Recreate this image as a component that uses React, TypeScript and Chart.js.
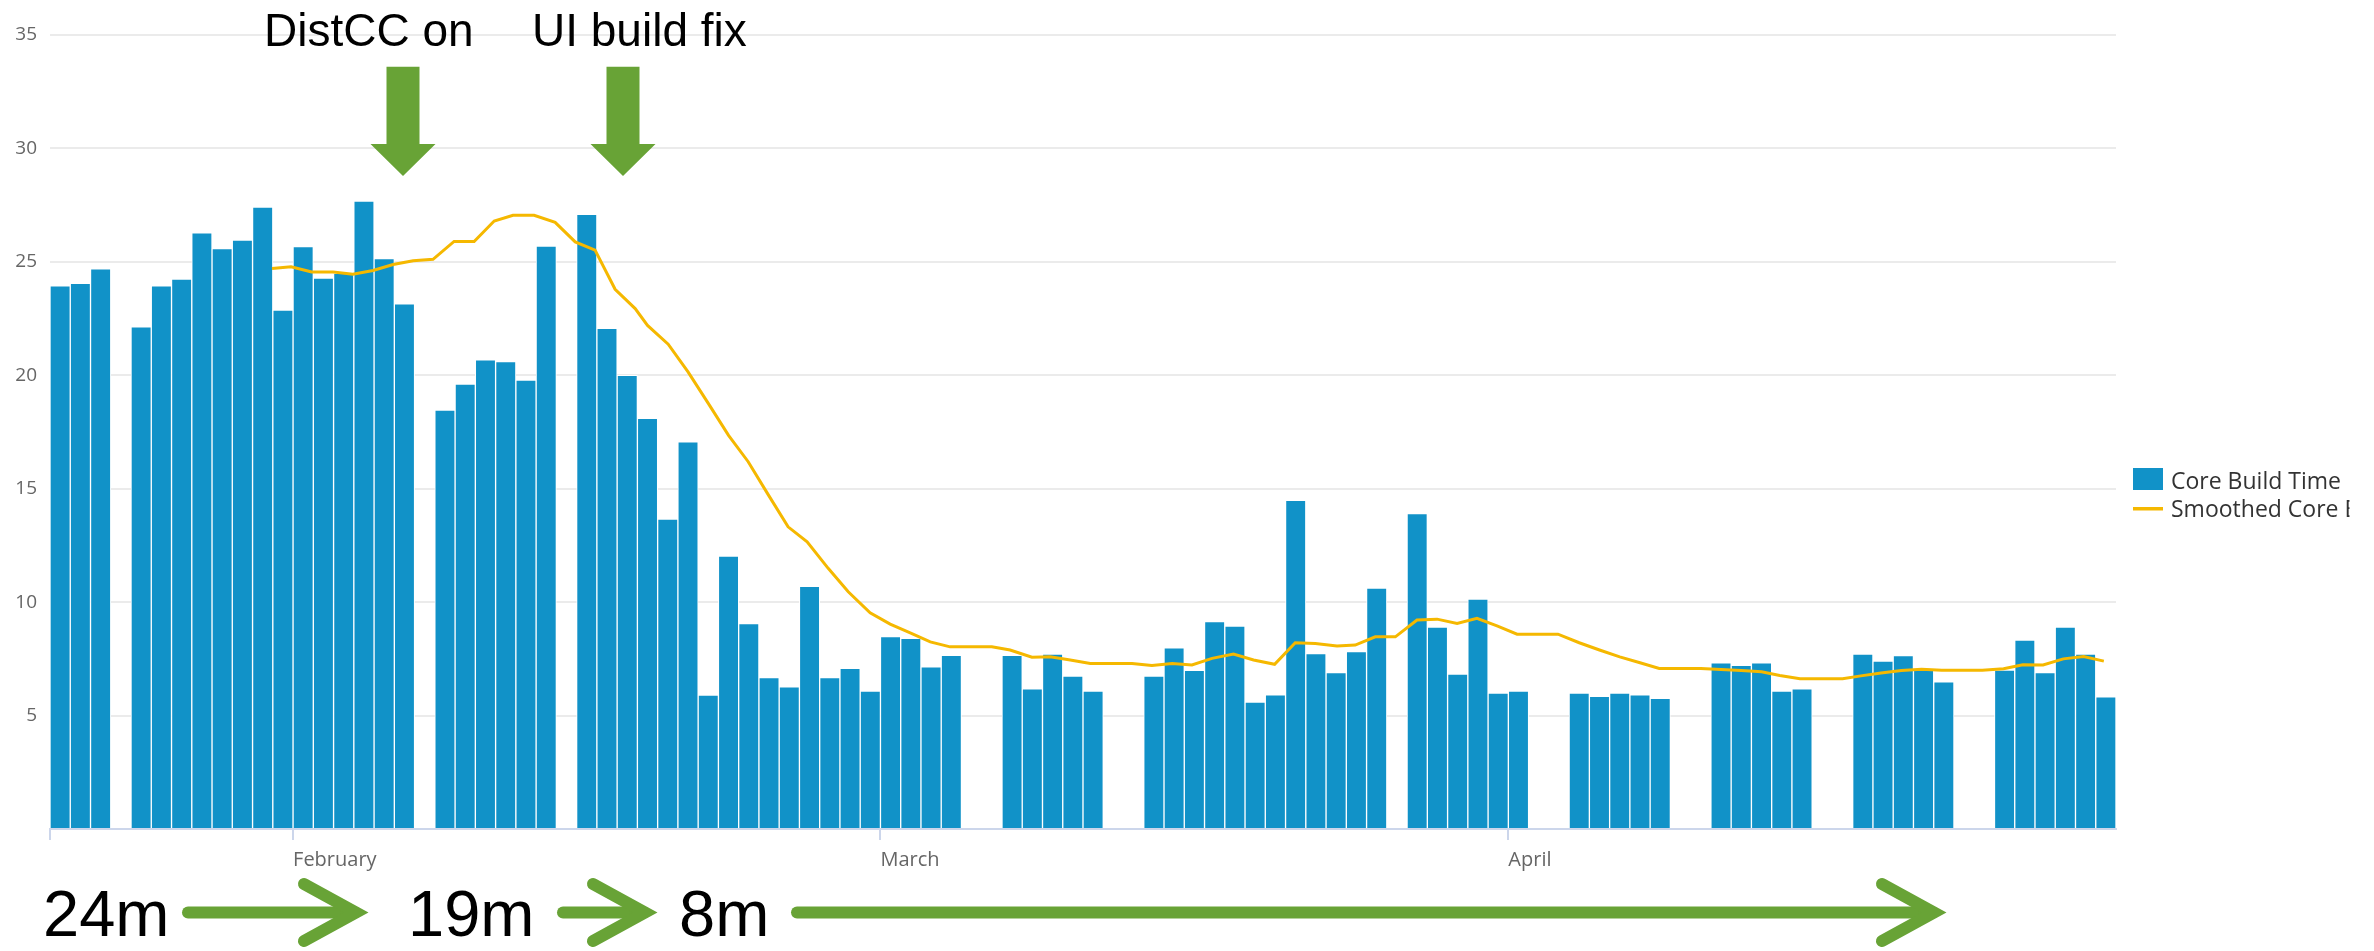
import { useEffect, useRef } from 'react';
import { Chart, registerables } from 'chart.js';

Chart.register(...registerables);

// Day slots starting 2016-01-20 (slot index 0); null = no build that day
const coreBuildTime: (number | null)[] = [
  23.94, 24.05, 24.69, null, 22.14, 23.94, 24.24, 26.28, 25.59, 25.96,
  27.42, 22.87, 25.67, 24.28, 24.49, 27.68, 25.14, 23.15, null, 18.47,
  19.61, 20.68, 20.6, 19.79, 25.69, null, 27.1, 22.07, 20.0, 18.1,
  13.66, 17.07, 5.9, 12.03, 9.05, 6.67, 6.27, 10.7, 6.67, 7.08,
  6.08, 8.48, 8.4, 7.15, 7.65, null, null, 7.65, 6.18, 7.71,
  6.74, 6.08, null, null, 6.74, 7.99, 6.99, 9.14, 8.95, 5.6,
  5.91, 14.49, 7.73, 6.9, 7.82, 10.62, null, 13.9, 8.9, 6.83,
  10.14, 5.99, 6.08, null, null, 5.99, 5.85, 5.99, 5.91, 5.76,
  null, null, 7.32, 7.21, 7.32, 6.08, 6.18, null, null, 7.71,
  7.4, 7.64, 7.0, 6.49, null, null, 7.0, 8.33, 6.9, 8.9,
  7.71, 5.83,
];

// Smoothed series: position in day units and value
const smoothedDays = [
  10.96, 11.9, 12.92, 13.98, 14.95, 15.95, 16.94, 17.93, 18.91, 19.95,
  20.94, 21.93, 22.86, 23.9, 24.94, 25.93, 26.91, 27.9, 28.89, 29.5,
  30.52, 31.5, 32.5, 33.5, 34.47, 35.45, 36.44, 37.38, 38.42, 39.41,
  40.49, 41.48, 42.47, 43.46, 44.44, 45.43, 46.5, 47.4, 48.48, 49.38,
  50.37, 51.36, 52.35, 53.42, 54.4, 55.4, 56.38, 57.37, 58.43, 59.42,
  60.46, 61.48, 62.47, 63.54, 64.44, 65.43, 66.42, 67.49, 68.48, 69.47,
  70.45, 71.44, 72.43, 73.45, 74.45, 75.5, 76.5, 77.5, 78.5, 79.45,
  80.5, 81.5, 82.5, 83.5, 84.5, 85.4, 86.4, 87.5, 88.5, 89.4,
  90.4, 91.4, 92.4, 93.4, 94.4, 95.4, 96.45, 97.4, 98.4, 99.4,
  100.4, 101.4,
];
const smoothedValues = [
  24.71, 24.78, 24.55, 24.55, 24.45, 24.62, 24.88, 25.05, 25.11, 25.9,
  25.9, 26.8, 27.05, 27.05, 26.74, 25.88, 25.52, 23.79, 22.94, 22.2,
  21.37, 20.15, 18.76, 17.35, 16.19, 14.75, 13.32, 12.66, 11.49, 10.46,
  9.53, 9.03, 8.65, 8.25, 8.03, 8.03, 8.03, 7.89, 7.57, 7.59,
  7.45, 7.3, 7.3, 7.3, 7.21, 7.3, 7.23, 7.52, 7.71, 7.45,
  7.26, 8.21, 8.18, 8.07, 8.11, 8.47, 8.47, 9.21, 9.25, 9.06,
  9.29, 8.95, 8.59, 8.59, 8.59, 8.21, 7.89, 7.59, 7.33, 7.08,
  7.08, 7.08, 7.03, 6.99, 6.93, 6.77, 6.62, 6.62, 6.62, 6.75,
  6.88, 6.99, 7.04, 7.0, 7.0, 7.0, 7.06, 7.24, 7.23, 7.5,
  7.6, 7.4,
];

const tickDays = [0, 12, 41, 72];
const tickLabels = ['', 'February', 'March', 'April'];

const seriesNames = ['Core Build Time', 'Smoothed Core Build Time'];
const eventLabels = ['DistCC on', 'UI build fix'];
const stageLabels = ['24m', '19m', '8m'];

const BAR_COLOR = '#1192c8';
const LINE_COLOR = '#f5b800';
const GREEN = '#68a336';
const AXIS_FONT = "'Open Sans', 'DejaVu Sans', sans-serif";
const NOTE_FONT = "'Liberation Sans', Arial, sans-serif";

function drawDownArrow(ctx: CanvasRenderingContext2D, cx: number) {
  ctx.beginPath();
  ctx.moveTo(cx - 16.5, 66.7);
  ctx.lineTo(cx + 16.5, 66.7);
  ctx.lineTo(cx + 16.5, 144);
  ctx.lineTo(cx + 32.5, 144);
  ctx.lineTo(cx, 176);
  ctx.lineTo(cx - 32.5, 144);
  ctx.lineTo(cx - 16.5, 144);
  ctx.closePath();
  ctx.fill();
}

function drawRightArrow(ctx: CanvasRenderingContext2D, x0: number, tip: number, y: number) {
  ctx.lineWidth = 12;
  ctx.lineCap = 'round';
  ctx.lineJoin = 'miter';
  ctx.miterLimit = 10;
  ctx.beginPath();
  ctx.moveTo(x0, y);
  ctx.lineTo(tip - 14, y);
  ctx.stroke();
  ctx.beginPath();
  ctx.moveTo(tip - 65, y - 28.5);
  ctx.lineTo(tip - 13, y);
  ctx.lineTo(tip - 65, y + 28.5);
  ctx.stroke();
}

const annotationPlugin = {
  id: 'annotations',
  afterDraw(chart: any) {
    const ctx: CanvasRenderingContext2D = chart.ctx;
    ctx.save();
    // top event notes
    ctx.fillStyle = '#000';
    ctx.textBaseline = 'alphabetic';
    ctx.textAlign = 'left';
    ctx.font = `46px ${NOTE_FONT}`;
    ctx.fillText(eventLabels[0], 264, 46);
    ctx.fillText(eventLabels[1], 532, 46);
    ctx.fillStyle = GREEN;
    drawDownArrow(ctx, 403);
    drawDownArrow(ctx, 623);

    // bottom stage notes
    ctx.fillStyle = '#000';
    ctx.font = `65px ${NOTE_FONT}`;
    ctx.fillText(stageLabels[0], 43, 936);
    ctx.fillText(stageLabels[1], 408, 936);
    ctx.fillText(stageLabels[2], 679, 936);
    ctx.strokeStyle = GREEN;
    drawRightArrow(ctx, 188, 369, 912.5);
    drawRightArrow(ctx, 563, 658, 912.5);
    drawRightArrow(ctx, 797, 1947, 912.5);

    // legend
    const lx = 2133;
    ctx.fillStyle = BAR_COLOR;
    ctx.fillRect(lx, 468, 30, 22);
    ctx.fillStyle = LINE_COLOR;
    ctx.fillRect(lx, 507, 30, 3.5);
    ctx.fillStyle = '#333';
    ctx.font = `23px ${AXIS_FONT}`;
    ctx.fillText(seriesNames[0], 2171, 489);
    const clipX = 2171 + ctx.measureText('Smoothed Core ').width + 5;
    ctx.beginPath();
    ctx.rect(2100, 490, clipX - 2100, 40);
    ctx.clip();
    ctx.fillText(seriesNames[1], 2171, 516.5);
    ctx.restore();
  },
};

export default function App() {
  const ref = useRef<HTMLCanvasElement>(null);
  useEffect(() => {
    document.body.style.margin = '0';
    const canvas = ref.current!;
    const chart = new Chart(canvas, {
      type: 'bar',
      data: {
        datasets: [
          {
            type: 'line',
            label: seriesNames[1],
            data: smoothedDays.map((d, i) => ({ x: d, y: smoothedValues[i] })),
            borderColor: LINE_COLOR,
            borderWidth: 3,
            pointRadius: 0,
            tension: 0,
            fill: false,
            order: 1,
          } as any,
          {
            type: 'bar',
            label: seriesNames[0],
            data: coreBuildTime.map((v, i) => ({ x: i + 0.5, y: v })),
            backgroundColor: BAR_COLOR,
            borderColor: '#ffffff',
            borderWidth: 1,
            borderSkipped: 'bottom',
            barPercentage: 1,
            categoryPercentage: 1,
            order: 2,
          } as any,
        ],
      },
      options: {
        responsive: false,
        animation: false,
        devicePixelRatio: 1,
        events: [],
        layout: { padding: { top: 35, right: 258, bottom: 0, left: 0 } },
        plugins: { legend: { display: false }, tooltip: { enabled: false } },
        scales: {
          x: {
            type: 'linear',
            min: 0,
            max: 102,
            offset: false,
            afterBuildTicks: (axis: any) => {
              axis.ticks = tickDays.map((v) => ({ value: v }));
            },
            afterFit: (axis: any) => {
              axis.height = 122;
            },
            ticks: {
              autoSkip: false,
              maxRotation: 0,
              align: 'start',
              padding: 8,
              color: '#666',
              font: { family: AXIS_FONT, size: 20 },
              callback: (_v: any, i: number) => tickLabels[i] ?? '',
            },
            grid: {
              drawOnChartArea: false,
              drawTicks: true,
              tickLength: 11,
              color: '#ccd6eb',
              lineWidth: 2,
              offset: false,
            },
            border: { display: true, color: '#ccd6eb', width: 2 },
          } as any,
          y: {
            min: 0,
            max: 35,
            afterFit: (axis: any) => {
              axis.width = 50;
            },
            ticks: {
              stepSize: 5,
              padding: 13,
              color: '#666',
              font: { family: AXIS_FONT, size: 19 },
              callback: (v: any) => (v === 0 ? '' : String(v)),
            },
            grid: { color: '#ebebeb', lineWidth: 2, drawTicks: false },
            border: { display: false },
          } as any,
        },
      },
      plugins: [annotationPlugin],
    });
    return () => chart.destroy();
  }, []);
  return (
    <div style={{ width: 2374, height: 951, position: 'relative', overflow: 'hidden' }}>
      <canvas ref={ref} width={2374} height={951} style={{ display: 'block', width: 2374, height: 951 }} />
    </div>
  );
}
